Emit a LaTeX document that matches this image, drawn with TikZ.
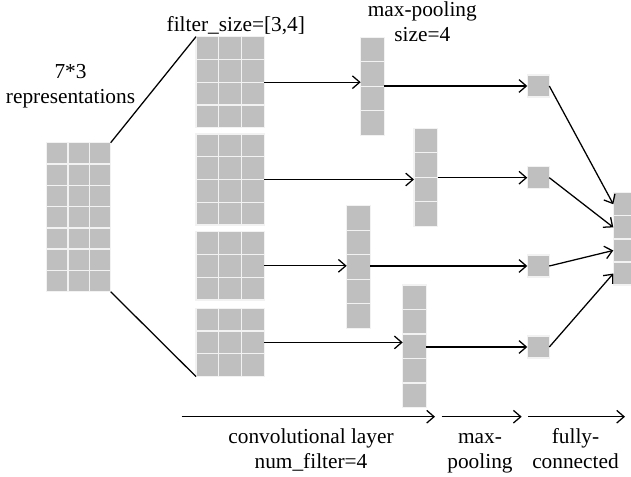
\documentclass[tikz,border=0pt]{standalone}
\usepackage{fontspec}
\setmainfont{Liberation Serif}
\usepackage{tikz}
\usetikzlibrary{arrows.meta}

% name, left, top, columns, rows, cell width, cell height
\newcommand{\cellblock}[7]{%
  \node[block={#4*#6}{#5*#7}] (#1) at (#2,#3) {};
  \foreach \r in {1,...,#5}{
    \foreach \c in {1,...,#4}{
      \node[cell={#6}{#7}] (#1-\r-\c) at ({#2+(\c-1)*#6},{#3+(\r-1)*#7}) {};
    }
  }
}

\begin{document}
\begin{tikzpicture}[x=0.75pt,y=-0.75pt,
  block/.style 2 args={inner sep=0pt, outer sep=0pt, anchor=north west,
    minimum width={#1*0.75pt}, minimum height={#2*0.75pt}},
  cell/.style 2 args={draw=white!90!gray, fill=gray!50, line width=1pt,
    inner sep=0pt, outer sep=0pt, anchor=north west,
    minimum width={#1*0.75pt}, minimum height={#2*0.75pt}},
  conn/.style={-{Straight Barb[length=5.5pt,width=9.5pt]}, line width=0.95pt},
  link/.style={line width=0.95pt},
  lbl/.style={inner sep=0pt, align=center, font=\fontsize{16}{18.75}\selectfont}]
\useasboundingbox (0,0) rectangle (631,477);

% input and feature maps
\cellblock{inp}{46.7}{142.7}{3}{7}{21.33}{21.29}
\cellblock{map1}{196}{36.7}{3}{4}{22.75}{22.75}
\cellblock{map2}{196}{134}{3}{4}{22.75}{22.75}
\cellblock{map3}{196}{231.7}{3}{3}{22.75}{22.75}
\cellblock{map4}{196}{308.3}{3}{3}{22.75}{22.75}

% convolution outputs
\cellblock{vec1}{360.7}{37.3}{1}{4}{23.6}{24.5}
\cellblock{vec2}{414}{128.3}{1}{4}{23.6}{24.5}
\cellblock{vec3}{346.7}{205.7}{1}{5}{23.6}{24.5}
\cellblock{vec4}{402.7}{285}{1}{5}{23.6}{24.5}

% pooled values and output
\cellblock{sq1}{527.3}{75}{1}{1}{22}{22}
\cellblock{sq2}{527.3}{166.7}{1}{1}{22}{22}
\cellblock{sq3}{527.3}{255}{1}{1}{22}{22}
\cellblock{sq4}{527.3}{336}{1}{1}{22}{22}
\cellblock{out}{613.3}{192.7}{1}{4}{23.6}{23.1}

\draw[link] (inp.north east) -- (map1.north west);
\draw[link] (inp.south east) -- (map4.south west);

\draw[conn] (map1.east) -- (map1.east -| vec1.west);
\draw[conn] (map2.east) -- (map2.east -| vec2.west);
\draw[conn] (map3.east) -- (map3.east -| vec3.west);
\draw[conn] (map4.east) -- (map4.east -| vec4.west);

\draw[conn] (vec1.east |- sq1.west) -- (sq1.west);
\draw[conn] (vec2.east |- sq2.west) -- (sq2.west);
\draw[conn] (vec3.east |- sq3.west) -- (sq3.west);
\draw[conn] (vec4.east |- sq4.west) -- (sq4.west);

\draw[conn] (sq1.east) -- (out-1-1.west);
\draw[conn] (sq2.east) -- (out-2-1.west);
\draw[conn] (sq3.east) -- (out-3-1.west);
\draw[conn] (sq4.east) -- (out-4-1.west);

% stage arrows
\coordinate (conv-s) at (181.7,416.7);
\coordinate (conv-e) at (435,416.7);
\coordinate (pool-s) at (441.7,416.7);
\coordinate (pool-e) at (521.7,416.7);
\coordinate (fc-s) at (528.3,416.7);
\coordinate (fc-e) at (625,416.7);
\draw[conn] (conv-s) -- (conv-e);
\draw[conn] (pool-s) -- (pool-e);
\draw[conn] (fc-s) -- (fc-e);

% labels
\node[lbl] (inplbl) at (70.5,85.8) {\strut 7*3\\representations\strut};
\node[lbl] (filterlbl) at (235.8,26.7) {\strut filter\_size=[3,4]\strut};
\node[lbl] (poollbl) at (422.3,24.5) {\strut max-pooling\\size=4\strut};
\node[lbl] (convlbl) at (311,450.8) {\strut convolutional layer\\num\_filter=4\strut};
\node[lbl] (maxlbl) at (480,450.8) {\strut max-\\pooling\strut};
\node[lbl] (fclbl) at (575.5,450.8) {\strut fully-\\connected\strut};
\end{tikzpicture}
\end{document}
